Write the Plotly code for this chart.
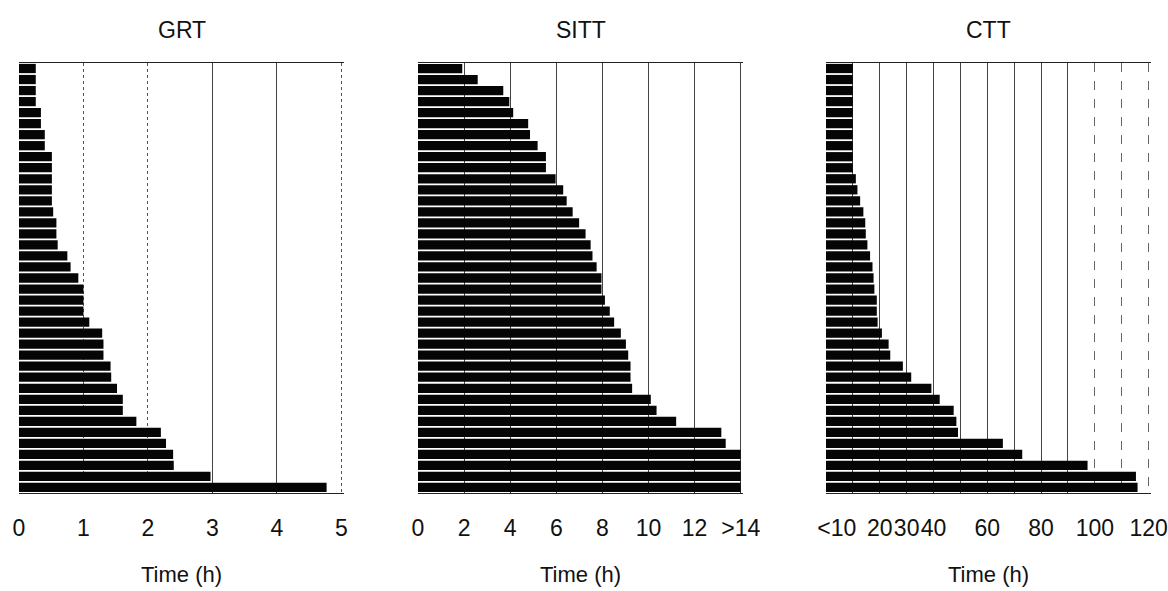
import plotly.graph_objects as go

rows = list(range(1, 40))

grt_hours = [0.26, 0.26, 0.26, 0.26, 0.34, 0.34, 0.40, 0.40, 0.51, 0.51,
             0.51, 0.51, 0.51, 0.53, 0.58, 0.58, 0.60, 0.75, 0.80, 0.92,
             1.00, 1.00, 1.00, 1.09, 1.29, 1.31, 1.31, 1.42, 1.43, 1.52,
             1.61, 1.61, 1.82, 2.20, 2.28, 2.39, 2.40, 2.97, 4.77]

sitt_hours = [1.92, 2.59, 3.70, 3.96, 4.13, 4.78, 4.86, 5.19, 5.55, 5.55,
              5.97, 6.30, 6.45, 6.71, 6.99, 7.27, 7.49, 7.57, 7.75, 7.96,
              7.96, 8.11, 8.32, 8.51, 8.80, 9.02, 9.12, 9.22, 9.22, 9.29,
              10.10, 10.35, 11.20, 13.16, 13.35, 14.0, 14.0, 14.0, 14.0]

ctt_hours = [10, 10, 10, 10, 10, 10, 10, 10, 10, 10,
             11.1, 11.7, 12.7, 13.9, 14.6, 14.8, 15.4, 16.4, 17.3, 17.7,
             18.0, 18.9, 18.9, 19.2, 20.8, 23.3, 23.9, 28.6, 31.7, 39.2,
             42.3, 47.5, 48.5, 49.1, 65.8, 73.0, 97.3, 115.3, 115.9]

titles = ["GRT", "SITT", "CTT"]
axis_title = "Time (h)"

grt_ticks = [0, 1, 2, 3, 4, 5]
grt_text = ["0", "1", "2", "3", "4", "5"]
grt_solid_grid = [3, 4]
grt_dotted_grid = [1, 2, 5]
sitt_ticks = [0, 2, 4, 6, 8, 10, 12, 14]
sitt_text = ["0", "2", "4", "6", "8", "10", "12", ">14"]
ctt_ticks = [4, 20, 30, 40, 60, 80, 100, 120]
ctt_text = ["<10", "20", "30", "40", "60", "80", "100", "120"]
ctt_solid_grid = [10, 20, 30, 40, 50, 60, 70, 80, 90]
ctt_dashed_grid = [100, 110, 120]

grt_range = [0, 5.04]
sitt_range = [0, 14.1]
ctt_range = [0, 120.9]

W, H = 1168, 591
FONT = "Liberation Sans, Arial, DejaVu Sans, sans-serif"
top_px, bot_px = 63, 493
ydom = [1 - bot_px / H, 1 - top_px / H]
xdoms = [[19 / W, 344 / W], [418 / W, 743 / W], [826 / W, 1151 / W]]

fig = go.Figure()
series = [grt_hours, sitt_hours, ctt_hours]
for i, vals in enumerate(series):
    sfx = "" if i == 0 else str(i + 1)
    fig.add_trace(go.Bar(x=vals, y=rows, orientation="h",
                         marker=dict(color="#050505", line=dict(width=0)),
                         xaxis="x" + sfx, yaxis="y" + sfx,
                         showlegend=False, hoverinfo="x"))
# empty carriers for the overlay grid axes
fig.add_trace(go.Scatter(x=[], y=[], xaxis="x4", yaxis="y", showlegend=False))
fig.add_trace(go.Scatter(x=[], y=[], xaxis="x5", yaxis="y3", showlegend=False))

GRID = "#444"
common_x = dict(showline=True, linecolor="#222", linewidth=1, mirror=True,
                ticks="", tickangle=0,
                tickfont=dict(family=FONT, size=23, color="#111"),
                ticklabelstandoff=14, zeroline=False, tickmode="array")
common_y = dict(range=[39.5, 0.5], showticklabels=False, showgrid=False,
                zeroline=False, showline=False, ticks="")
overlay_x = dict(showline=False, showticklabels=False, ticks="", zeroline=False,
                 tickmode="array", showgrid=True, gridwidth=1)

layout = dict(width=W, height=H,
              margin=dict(l=0, r=0, t=0, b=0, autoexpand=False),
              paper_bgcolor="white", plot_bgcolor="white", bargap=0.16,
              font=dict(family=FONT, color="#111"))

layout["xaxis"] = dict(common_x, domain=xdoms[0], anchor="y", range=grt_range,
                       tickvals=grt_ticks, ticktext=grt_text, showgrid=False,
                       minor=dict(tickmode="array", tickvals=grt_solid_grid,
                                  showgrid=True, gridcolor=GRID, gridwidth=1,
                                  ticks=""))
layout["xaxis4"] = dict(overlay_x, overlaying="x", anchor="y", range=grt_range,
                        tickvals=grt_dotted_grid, gridcolor="#555", griddash="dot")
layout["yaxis"] = dict(common_y, domain=ydom, anchor="x")

layout["xaxis2"] = dict(common_x, domain=xdoms[1], anchor="y2", range=sitt_range,
                        tickvals=sitt_ticks, ticktext=sitt_text,
                        showgrid=True, gridcolor=GRID, gridwidth=1)
layout["yaxis2"] = dict(common_y, domain=ydom, anchor="x2")

layout["xaxis3"] = dict(common_x, domain=xdoms[2], anchor="y3", range=ctt_range,
                        tickvals=ctt_ticks, ticktext=ctt_text, showgrid=False,
                        minor=dict(tickmode="array", tickvals=ctt_solid_grid,
                                   showgrid=True, gridcolor=GRID, gridwidth=1,
                                   ticks=""))
layout["xaxis5"] = dict(overlay_x, overlaying="x3", anchor="y3", range=ctt_range,
                        tickvals=ctt_dashed_grid, gridcolor="#666", griddash="dash")
layout["yaxis3"] = dict(common_y, domain=ydom, anchor="x3")

annotations = []
for i, t in enumerate(titles):
    cx = (xdoms[i][0] + xdoms[i][1]) / 2
    annotations.append(dict(text=t, x=cx, y=1 - 30 / H, xref="paper", yref="paper",
                            showarrow=False, xanchor="center", yanchor="middle",
                            font=dict(family=FONT, size=23, color="#111")))
    annotations.append(dict(text=axis_title, x=cx, y=1 - 574 / H, xref="paper",
                            yref="paper", showarrow=False, xanchor="center",
                            yanchor="middle",
                            font=dict(family=FONT, size=22, color="#111")))
layout["annotations"] = annotations

fig.update_layout(**layout)
fig.write_html("out.html", config={"displayModeBar": False},
               post_script="document.body.style.margin='0';"
                           "document.body.style.overflow='hidden';")
